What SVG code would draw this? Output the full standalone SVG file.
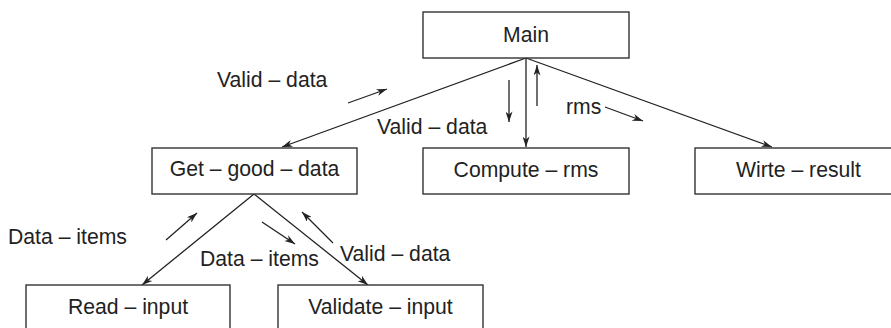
<svg xmlns="http://www.w3.org/2000/svg" width="891" height="328" viewBox="0 0 891 328">
<style>
.box{fill:#fff;stroke:#333;stroke-width:1.4}
.t{font-family:"Liberation Sans",Arial,sans-serif;font-size:21.2px;fill:#222}
.c{text-anchor:middle}
.ln{stroke:#222;stroke-width:1.3;fill:none}
</style>
<defs>
<marker id="ah" viewBox="0 0 12 8" refX="12" refY="4" markerWidth="12" markerHeight="7" markerUnits="userSpaceOnUse" orient="auto">
<path d="M0,0 L12,4 L0,8 L3.5,4 z" fill="#222"/>
</marker>
</defs>
<g id="connectors">
<line class="ln" x1="526" y1="58" x2="282" y2="147" marker-end="url(#ah)"/>
<line class="ln" x1="526" y1="58" x2="526" y2="147" marker-end="url(#ah)"/>
<line class="ln" x1="526" y1="58" x2="772" y2="147" marker-end="url(#ah)"/>
<line class="ln" x1="254" y1="194" x2="142" y2="285" marker-end="url(#ah)"/>
<line class="ln" x1="254" y1="194" x2="368" y2="285" marker-end="url(#ah)"/>
<line class="ln" x1="348" y1="103" x2="387" y2="89" marker-end="url(#ah)"/>
<line class="ln" x1="509" y1="80" x2="509" y2="122" marker-end="url(#ah)"/>
<line class="ln" x1="537" y1="106" x2="537" y2="65" marker-end="url(#ah)"/>
<line class="ln" x1="605" y1="107" x2="643" y2="121" marker-end="url(#ah)"/>
<line class="ln" x1="166" y1="240" x2="197" y2="213" marker-end="url(#ah)"/>
<line class="ln" x1="262" y1="222" x2="295" y2="244" marker-end="url(#ah)"/>
<line class="ln" x1="333" y1="243" x2="302" y2="212" marker-end="url(#ah)"/>
</g>
<g id="labels">
<text class="t" x="217" y="87">Valid – data</text>
<text class="t" x="377" y="134">Valid – data</text>
<text class="t" x="566" y="114">rms</text>
<text class="t" x="8" y="244">Data – items</text>
<text class="t" x="200" y="266">Data – items</text>
<text class="t" x="340" y="261">Valid – data</text>
</g>
<g id="main"><rect class="box" x="423" y="12" width="206" height="46"/><text class="t c" x="526" y="42">Main</text></g>
<g id="get-good-data"><rect class="box" x="152" y="148" width="205" height="46"/><text class="t c" x="254.5" y="176">Get – good – data</text></g>
<g id="compute-rms"><rect class="box" x="423" y="148" width="206" height="46"/><text class="t c" x="526" y="177">Compute – rms</text></g>
<g id="write-result"><rect class="box" x="695" y="148" width="210" height="46"/><text class="t c" x="798.5" y="177">Wirte – result</text></g>
<g id="read-input"><rect class="box" x="26" y="285" width="204" height="50"/><text class="t c" x="128" y="314">Read – input</text></g>
<g id="validate-input"><rect class="box" x="278" y="285" width="205" height="50"/><text class="t c" x="380.5" y="314">Validate – input</text></g>
</svg>
